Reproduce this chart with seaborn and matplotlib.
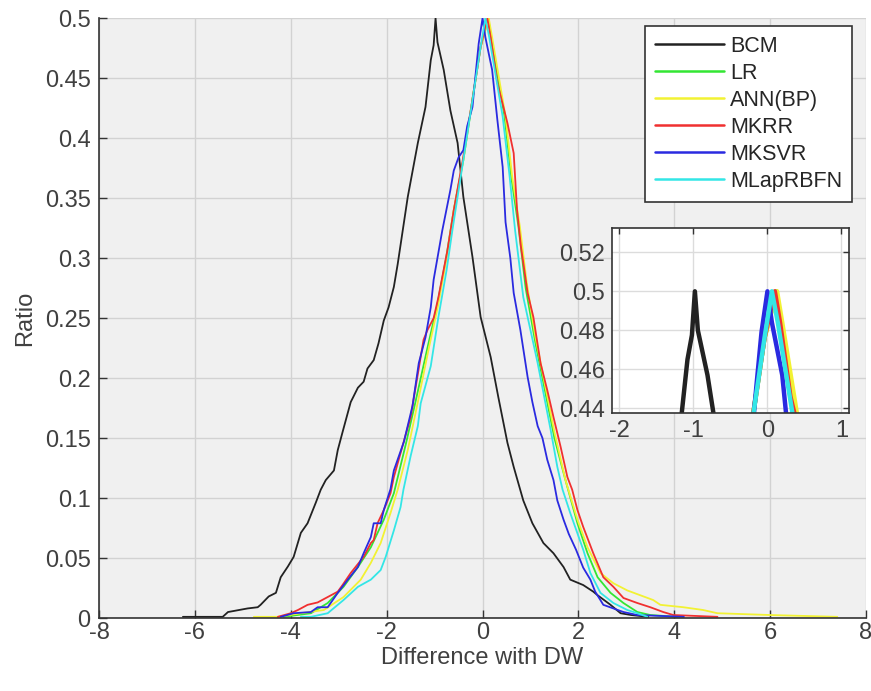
import numpy as np
import pandas as pd
import matplotlib
matplotlib.use("Agg")
import matplotlib.pyplot as plt
import seaborn as sns
from matplotlib.lines import Line2D

# ---- data: folded cumulative curves ----
bcm_x = [-6.25, -5.42, -5.31, -4.90, -4.69, -4.63, -4.46, -4.31, -4.21, -4.06, -3.94, -3.79, -3.65,
         -3.48, -3.375, -3.27, -3.10, -3.02, -2.92, -2.75, -2.60, -2.48, -2.40, -2.27, -2.17, -2.06,
         -1.96, -1.85, -1.77, -1.56, -1.35, -1.19, -1.08, -1.02, -0.98,
         -0.94, -0.81, -0.67, -0.52, -0.40, -0.21, -0.04, 0.17, 0.33, 0.52, 0.65, 0.85, 1.04, 1.27,
         1.48, 1.69, 1.83, 2.10, 2.31, 2.40, 2.67, 2.88, 3.10, 3.46]
bcm_r = [0.001, 0.001, 0.005, 0.008, 0.009, 0.011, 0.018, 0.021, 0.034, 0.043, 0.051, 0.071, 0.079,
         0.096, 0.107, 0.115, 0.123, 0.140, 0.155, 0.180, 0.192, 0.197, 0.208, 0.215, 0.229, 0.248,
         0.259, 0.276, 0.295, 0.351, 0.396, 0.426, 0.465, 0.4775, 0.500,
         0.480, 0.457, 0.423, 0.396, 0.351, 0.301, 0.251, 0.2175, 0.184, 0.146, 0.126, 0.098, 0.079, 0.0625,
         0.054, 0.0425, 0.032, 0.0275, 0.022, 0.019, 0.011, 0.004, 0.0025, 0.001]

lr_x = [-4.15, -3.58, -3.23, -2.90, -2.60, -2.33, -2.06, -1.85, -1.60, -1.40, -1.15, -0.95, -0.76,
        -0.60, -0.40, -0.20, -0.04, 0.12,
        0.18, 0.32, 0.46, 0.60, 0.75, 0.90, 1.10, 1.30, 1.50, 1.73, 1.98, 2.19, 2.40, 2.67, 2.94,
        3.23, 3.50, 4.06]
lr_r = [0.001, 0.004, 0.0125, 0.026, 0.0425, 0.059, 0.082, 0.104, 0.145, 0.180, 0.225, 0.260, 0.300,
        0.340, 0.382, 0.435, 0.476, 0.500,
        0.484, 0.451, 0.418, 0.3675, 0.326, 0.275, 0.230, 0.190, 0.150, 0.115, 0.079, 0.054, 0.034, 0.021, 0.0125,
        0.005, 0.0025, 0.001]

ann_x = [-4.77, -4.27, -3.79, -3.31, -2.90, -2.54, -2.33, -2.125, -1.92, -1.77, -1.56, -1.35, -1.12,
         -0.93, -0.75, -0.60, -0.40, -0.20, -0.04, 0.13,
         0.20, 0.34, 0.48, 0.62, 0.78, 0.92, 1.10, 1.30, 1.50, 1.73, 1.98, 2.19, 2.46, 2.73, 3.02,
         3.29, 3.56, 3.71, 4.19, 4.60, 4.90, 6.00, 7.40]
ann_r = [0.001, 0.001, 0.004, 0.0067, 0.0175, 0.032, 0.046, 0.0625, 0.0875, 0.107, 0.140, 0.180, 0.225,
         0.260, 0.300, 0.340, 0.382, 0.435, 0.476, 0.500,
         0.484, 0.451, 0.418, 0.3675, 0.326, 0.280, 0.235, 0.195, 0.155, 0.115, 0.082, 0.059, 0.0375, 0.029, 0.023,
         0.019, 0.015, 0.011, 0.009, 0.0067, 0.004, 0.0025, 0.001]

mkrr_x = [-4.27, -4.00, -3.85, -3.65, -3.44, -3.23, -3.02, -2.92, -2.75, -2.48, -2.33, -2.27, -2.19,
          -2.06, -1.92, -1.85, -1.50, -1.23, -1.15, -1.02, -0.92, -0.73, -0.60, -0.42, -0.22, -0.04, 0.10,
          0.17, 0.31, 0.52, 0.65, 0.72, 0.80, 0.94, 1.06, 1.21, 1.35, 1.48, 1.63, 1.77, 1.87, 1.98,
          2.10, 2.31, 2.52, 2.73, 2.94, 3.23, 3.50, 3.77, 3.98, 4.90]
mkrr_r = [0.001, 0.004, 0.0067, 0.011, 0.013, 0.0175, 0.022, 0.0275, 0.0375, 0.051, 0.0625, 0.065, 0.079,
          0.090, 0.104, 0.1175, 0.1675, 0.232, 0.240, 0.250, 0.2675, 0.307, 0.340, 0.380, 0.430, 0.476, 0.500,
          0.484, 0.446, 0.4125, 0.3875, 0.340, 0.310, 0.271, 0.251, 0.2125, 0.190, 0.1675, 0.1425, 0.1175, 0.107, 0.090,
          0.076, 0.054, 0.034, 0.026, 0.0167, 0.0125, 0.009, 0.005, 0.0025, 0.001]

mksvr_x = [-4.21, -3.94, -3.58, -3.44, -3.23, -3.02, -2.81, -2.60, -2.48, -2.33, -2.27, -2.125, -2.06,
           -1.92, -1.85, -1.64, -1.46, -1.33, -1.19, -1.08, -1.02, -0.84, -0.67, -0.60, -0.50, -0.40,
           -0.32, -0.21, -0.15, -0.08, 0.00,
           0.06, 0.20, 0.31, 0.42, 0.48, 0.58, 0.65, 0.79, 0.94, 1.04, 1.15, 1.25, 1.35, 1.48, 1.56,
           1.69, 1.80, 1.95, 2.10, 2.25, 2.35, 2.52, 2.73, 2.94, 3.23, 4.20]
mksvr_r = [0.001, 0.004, 0.005, 0.009, 0.009, 0.021, 0.032, 0.0425, 0.054, 0.0675, 0.079, 0.079, 0.090,
           0.1075, 0.123, 0.147, 0.177, 0.2125, 0.234, 0.259, 0.282, 0.323, 0.357, 0.373, 0.384, 0.390,
           0.410, 0.426, 0.451, 0.479, 0.500,
           0.484, 0.457, 0.415, 0.376, 0.330, 0.300, 0.271, 0.240, 0.201, 0.180, 0.160, 0.150, 0.132, 0.115, 0.098,
           0.082, 0.070, 0.057, 0.042, 0.032, 0.022, 0.011, 0.008, 0.005, 0.0025, 0.001]

mlap_x = [-3.79, -3.58, -3.23, -2.90, -2.60, -2.33, -2.125, -2.02, -1.85, -1.71, -1.65, -1.50, -1.35,
          -1.29, -1.08, -0.92, -0.75, -0.63, -0.40, -0.19, -0.04, 0.06,
          0.14, 0.28, 0.42, 0.56, 0.68, 0.85, 1.00, 1.15, 1.42, 1.56, 1.67, 1.83, 2.10, 2.25, 2.46,
          2.73, 3.02, 3.23, 3.44]
mlap_r = [0.001, 0.001, 0.004, 0.015, 0.026, 0.032, 0.040, 0.051, 0.073, 0.0925, 0.107, 0.135, 0.160,
          0.179, 0.210, 0.251, 0.290, 0.323, 0.382, 0.437, 0.476, 0.500,
          0.484, 0.451, 0.418, 0.370, 0.323, 0.2675, 0.240, 0.2125, 0.157, 0.126, 0.107, 0.0875, 0.057, 0.0375, 0.021,
          0.0125, 0.0067, 0.004, 0.001]

models = ["BCM", "LR", "ANN(BP)", "MKRR", "MKSVR", "MLapRBFN"]
series_x = [bcm_x, lr_x, ann_x, mkrr_x, mksvr_x, mlap_x]
series_r = [bcm_r, lr_r, ann_r, mkrr_r, mksvr_r, mlap_r]
colors = ["#222222", "#33e633", "#f2f233", "#f03030", "#2a2ae0", "#33e6e6"]

xticks = [-8, -6, -4, -2, 0, 2, 4, 6, 8]
yticks = [0, 0.05, 0.1, 0.15, 0.2, 0.25, 0.3, 0.35, 0.4, 0.45, 0.5]
ytick_labels = ["0", "0.05", "0.1", "0.15", "0.2", "0.25", "0.3", "0.35", "0.4", "0.45", "0.5"]
inset_xticks = [-2, -1, 0, 1]
inset_yticks = [0.44, 0.46, 0.48, 0.5, 0.52]
inset_ytick_labels = ["0.44", "0.46", "0.48", "0.5", "0.52"]

frames = []
for m, xs, rs in zip(models, series_x, series_r):
    frames.append(pd.DataFrame({"x": xs, "ratio": rs, "model": m, "idx": np.arange(len(xs))}))
df = pd.concat(frames, ignore_index=True)
palette = dict(zip(models, colors))

sns.set_theme(style="white")
plt.rcParams["font.family"] = ["Liberation Sans", "DejaVu Sans"]
txt = "#404040"

fig = plt.figure(figsize=(8.71, 6.91), dpi=100)
ax = fig.add_axes([0.1137, 0.1056, 0.8806, 0.868])
ax.set_facecolor("#f0f0f0")

sns.lineplot(data=df, x="x", y="ratio", hue="model", hue_order=models, palette=palette,
             sort=False, estimator=None, units="model", lw=1.3, ax=ax, legend=False)

ax.set_xlim(-8, 8)
ax.set_ylim(0, 0.5)
ax.set_xticks(xticks)
ax.set_xticklabels([str(t) for t in xticks])
ax.set_yticks(yticks)
ax.set_yticklabels(ytick_labels)
ax.grid(True, color="#d2d2d2", lw=1.0)
ax.set_axisbelow(True)
for s in ["top", "right"]:
    ax.spines[s].set_visible(False)
for s in ["left", "bottom"]:
    ax.spines[s].set_color("#333333")
    ax.spines[s].set_linewidth(1.2)
ax.tick_params(direction="in", length=6, width=1, colors="#333333", labelsize=17,
               labelcolor=txt, bottom=True, left=True, pad=6)
ax.tick_params(axis="x", pad=3)
ax.set_xlabel("Difference with DW", fontsize=17, color=txt, labelpad=2)
ax.set_ylabel("Ratio", fontsize=17, color=txt, labelpad=6)

handles = [Line2D([0], [0], color=c, lw=1.8) for c in colors]
leg = ax.legend(handles, models, loc="upper right", bbox_to_anchor=(0.982, 0.987),
                fontsize=15.5, handlelength=3.2, handletextpad=0.3, labelspacing=0.28,
                borderpad=0.45, frameon=True, fancybox=False, borderaxespad=0)
leg.get_frame().set_edgecolor("#333333")
leg.get_frame().set_linewidth(1.2)
leg.get_frame().set_facecolor("white")
leg.get_frame().set_alpha(1)
for t in leg.get_texts():
    t.set_color("#262626")

# inset
axi = fig.add_axes([0.7026, 0.4023, 0.272, 0.2677])
axi.set_facecolor("white")
sns.lineplot(data=df, x="x", y="ratio", hue="model", hue_order=models, palette=palette,
             sort=False, estimator=None, units="model", lw=3.2, ax=axi, legend=False)
axi.set_xlim(-2.1, 1.1)
axi.set_ylim(0.4375, 0.5325)
axi.set_xticks(inset_xticks)
axi.set_xticklabels([str(t) for t in inset_xticks])
axi.set_yticks(inset_yticks)
axi.set_yticklabels(inset_ytick_labels)
axi.grid(True, color="#dcdcdc", lw=1.0)
axi.set_axisbelow(True)
for s in axi.spines.values():
    s.set_color("#333333")
    s.set_linewidth(1.2)
axi.tick_params(direction="in", length=4, width=1, colors="#333333", labelsize=17,
                labelcolor=txt, top=True, right=True, pad=5)
axi.set_xlabel("")
axi.set_ylabel("")

fig.savefig("out.png", dpi=100, facecolor="white")
